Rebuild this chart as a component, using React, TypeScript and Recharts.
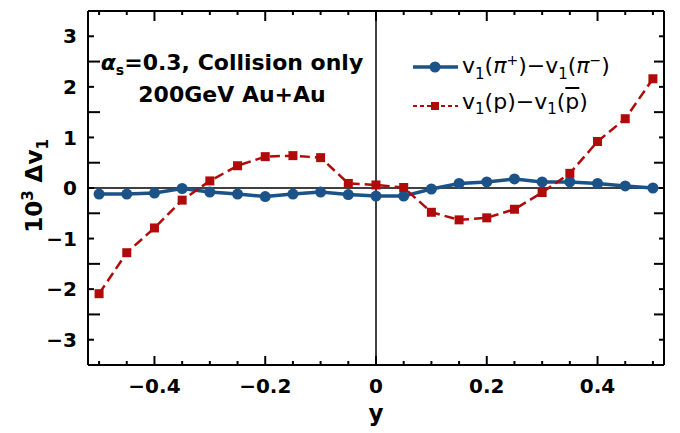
import React from "react";
import { LineChart, Line, XAxis, YAxis, ReferenceLine, Legend } from "recharts";

const RAPIDITY = [
  -0.5, -0.45, -0.4, -0.35, -0.3, -0.25, -0.2, -0.15, -0.1, -0.05, 0,
  0.05, 0.1, 0.15, 0.2, 0.25, 0.3, 0.35, 0.4, 0.45, 0.5,
];
const PION_DIFF = [
  -0.12, -0.12, -0.1, -0.01, -0.08, -0.12, -0.17, -0.12, -0.08, -0.13, -0.16,
  -0.16, -0.02, 0.09, 0.12, 0.18, 0.12, 0.12, 0.09, 0.04, 0.0,
];
const PROTON_DIFF = [
  -2.09, -1.28, -0.79, -0.24, 0.14, 0.44, 0.62, 0.64, 0.6, 0.09, 0.06,
  0.01, -0.48, -0.63, -0.59, -0.42, -0.09, 0.29, 0.92, 1.37, 2.16,
];

const X_TICKS = RAPIDITY;
const X_LABELS = [-0.4, -0.2, 0, 0.2, 0.4];
const Y_TICKS = [-3, -2.5, -2, -1.5, -1, -0.5, 0, 0.5, 1, 1.5, 2, 2.5, 3];
const Y_LABELS = [-3, -2, -1, 0, 1, 2, 3];

const BLUE = "#1b5288";
const RED = "#b00a0a";
const FONT = "'DejaVu Sans', sans-serif";

const data = RAPIDITY.map((y, i) => ({ y, pion: PION_DIFF[i], proton: PROTON_DIFF[i] }));

const fmt = (v: number) => (v < 0 ? "\u2212" + Math.abs(v) : String(v));

const BottomTick = ({ x, y, payload }: any) => {
  const major = X_LABELS.includes(payload.value);
  return (
    <g>
      <line x1={x} x2={x} y1={y} y2={y - (major ? 9 : 4)} stroke="#000" strokeWidth={2} />
      {major && (
        <text x={x} y={y + 28} textAnchor="middle" fontFamily={FONT} fontWeight="bold" fontSize={20} fill="#000">
          {fmt(payload.value)}
        </text>
      )}
    </g>
  );
};

const TopTick = ({ x, y, payload }: any) => {
  const major = X_LABELS.includes(payload.value);
  return <line x1={x} x2={x} y1={y} y2={y + (major ? 10 : 4)} stroke="#000" strokeWidth={2} />;
};

const LeftTick = ({ x, y, payload }: any) => {
  const labeled = Y_LABELS.includes(payload.value);
  return (
    <g>
      <line x1={x} x2={x + (labeled ? 6 : 12)} y1={y} y2={y} stroke="#000" strokeWidth={2} />
      {labeled && (
        <text x={x - 11} y={y} dy="0.36em" textAnchor="end" fontFamily={FONT} fontWeight="bold" fontSize={20} fill="#000">
          {fmt(payload.value)}
        </text>
      )}
    </g>
  );
};

const RightTick = ({ x, y, payload }: any) => {
  const labeled = Y_LABELS.includes(payload.value);
  return <line x1={x} x2={x - (labeled ? 5 : 10)} y1={y} y2={y} stroke="#000" strokeWidth={2} />;
};

const YTitle = ({ viewBox }: any) => {
  const cx = viewBox.x + 42;
  const cy = viewBox.y + viewBox.height / 2 - 2;
  return (
    <text
      x={cx}
      y={cy}
      transform={`rotate(-90 ${cx} ${cy})`}
      textAnchor="middle"
      fontFamily={FONT}
      fontWeight="bold"
      fontSize={23}
      fill="#000"
    >
      10
      <tspan dy={-9} fontSize={15}>3</tspan>
      <tspan dy={9}> Δv</tspan>
      <tspan dy={6} fontSize={15}>1</tspan>
    </text>
  );
};

const XTitle = ({ viewBox }: any) => (
  <text
    x={viewBox.x + viewBox.width / 2}
    y={viewBox.y + 56}
    textAnchor="middle"
    fontFamily={FONT}
    fontWeight="bold"
    fontSize={23}
    fill="#000"
  >
    y
  </text>
);

const SquareDot = ({ cx, cy, index }: any) => (
  <rect key={index} x={cx - 4.5} y={cy - 4.5} width={9} height={9} fill={RED} />
);

const LEGEND_TEXT: Record<string, React.ReactNode> = {
  pion: (
    <span>
      v<sub style={{ fontSize: 15 }}>1</sub>(<i>π</i><sup style={{ fontSize: 14 }}>+</sup>)−v
      <sub style={{ fontSize: 15 }}>1</sub>(<i>π</i><sup style={{ fontSize: 14 }}>−</sup>)
    </span>
  ),
  proton: (
    <span>
      v<sub style={{ fontSize: 15 }}>1</sub>(p)−v<sub style={{ fontSize: 15 }}>1</sub>(
      <span style={{ textDecoration: "overline" }}>p</span>)
    </span>
  ),
};

const LegendContent = ({ payload }: any) => (
  <div style={{ fontFamily: FONT, fontSize: 22, color: "#000" }}>
    {(payload || [])
      .filter((entry: any) => entry.type !== "none" && entry.color !== "none" && LEGEND_TEXT[entry.dataKey])
      .map((entry: any, i: number) => (
        <div
          key={entry.dataKey}
          style={{ display: "flex", alignItems: "center", height: 36, lineHeight: "36px", marginTop: i ? 3 : 0 }}
        >
          <svg width={46} height={36} style={{ marginRight: 3 }}>
            {entry.dataKey === "pion" ? (
              <>
                <line x1={0} x2={45} y1={18} y2={18} stroke={BLUE} strokeWidth={3.5} />
                <circle cx={22} cy={18} r={5.5} fill={BLUE} />
              </>
            ) : (
              <>
                <line x1={0} x2={45} y1={18} y2={18} stroke={RED} strokeWidth={2} strokeDasharray="4 3" />
                <rect x={18} y={14} width={8} height={8} fill={RED} />
              </>
            )}
          </svg>
          {LEGEND_TEXT[entry.dataKey]}
        </div>
      ))}
  </div>
);

export default function App() {
  return (
    <div style={{ position: "absolute", left: 0, top: 0, width: 680, height: 433, background: "#fff" }}>
      <LineChart width={680} height={433} data={data} margin={{ top: 10, right: 15, bottom: 0, left: 0 }}>
        <XAxis
          xAxisId="b"
          dataKey="y"
          type="number"
          domain={[-0.52, 0.52]}
          allowDataOverflow
          ticks={X_TICKS}
          interval={0}
          tickSize={0}
          tickMargin={0}
          tickLine={false}
          tick={(p: any) => <BottomTick {...p} />}
          axisLine={{ stroke: "#000", strokeWidth: 2 }}
          height={68}
          label={(p: any) => <XTitle {...p} />}
        />
        <XAxis
          xAxisId="t"
          orientation="top"
          dataKey="y"
          type="number"
          domain={[-0.52, 0.52]}
          allowDataOverflow
          ticks={X_TICKS}
          interval={0}
          tickSize={0}
          tickMargin={0}
          tickLine={false}
          tick={(p: any) => <TopTick {...p} />}
          axisLine={{ stroke: "#000", strokeWidth: 2 }}
          height={1}
        />
        <YAxis
          yAxisId="l"
          type="number"
          domain={[-3.5, 3.5]}
          allowDataOverflow
          ticks={Y_TICKS}
          interval={0}
          tickSize={0}
          tickMargin={0}
          tickLine={false}
          tick={(p: any) => <LeftTick {...p} />}
          axisLine={{ stroke: "#000", strokeWidth: 2 }}
          width={88}
          label={(p: any) => <YTitle {...p} />}
        />
        <YAxis
          yAxisId="r"
          orientation="right"
          type="number"
          domain={[-3.5, 3.5]}
          allowDataOverflow
          ticks={Y_TICKS}
          interval={0}
          tickSize={0}
          tickMargin={0}
          tickLine={false}
          tick={(p: any) => <RightTick {...p} />}
          axisLine={{ stroke: "#000", strokeWidth: 2 }}
          width={1}
        />
        <ReferenceLine xAxisId="b" yAxisId="l" y={0} stroke="#000" strokeWidth={1.5} />
        <ReferenceLine xAxisId="b" yAxisId="l" x={0} stroke="#000" strokeWidth={1.5} />
        <Line
          xAxisId="t"
          yAxisId="r"
          dataKey="pion"
          name="hidden"
          stroke="none"
          dot={false}
          activeDot={false}
          legendType="none"
          isAnimationActive={false}
        />
        <Line
          xAxisId="b"
          yAxisId="l"
          dataKey="pion"
          stroke={BLUE}
          strokeWidth={3.5}
          dot={{ r: 5.5, fill: BLUE, stroke: BLUE, strokeWidth: 0 }}
          isAnimationActive={false}
        />
        <Line
          xAxisId="b"
          yAxisId="l"
          dataKey="proton"
          stroke={RED}
          strokeWidth={2.5}
          strokeDasharray="10 5"
          dot={(p: any) => <SquareDot {...p} />}
          isAnimationActive={false}
        />
        <Legend
          layout="vertical"
          align="center"
          verticalAlign="middle"
          content={(p: any) => <LegendContent {...p} />}
          wrapperStyle={{ left: 413, top: 49, width: "auto" }}
        />
      </LineChart>
      <div
        style={{
          position: "absolute",
          left: 92,
          width: 280,
          top: 47,
          textAlign: "center",
          fontFamily: FONT,
          fontWeight: "bold",
          fontSize: 22,
          lineHeight: "32px",
          color: "#000",
        }}
      >
        <div>
          <i>α</i>
          <sub style={{ fontSize: 14, lineHeight: 0 }}>s</sub>=0.3, Collision only
        </div>
        <div>200GeV Au+Au</div>
      </div>
    </div>
  );
}
